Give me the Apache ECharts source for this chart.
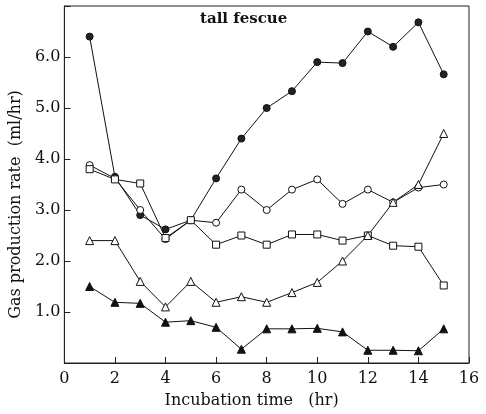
<!DOCTYPE html>
<html>
<head>
<meta charset="utf-8">
<script src="https://cdn.jsdelivr.net/npm/echarts@6/dist/echarts.min.js"></script>
<style>
  html, body { margin: 0; padding: 0; background: #fff; }
  #main { width: 486px; height: 414px; }
</style>
</head>
<body>
<div id="main"></div>
<script>
// incubation time (hr)
var hours = [1, 2, 3, 4, 5, 6, 7, 8, 9, 10, 11, 12, 13, 14, 15];
// gas production rate (ml/hr)
var filledCircle = [6.4, 3.65, 2.9, 2.62, 2.8, 3.62, 4.4, 5.0, 5.33, 5.9, 5.88, 6.5, 6.2, 6.68, 5.66];
var openCircle   = [3.88, 3.62, 3.0, 2.43, 2.8, 2.75, 3.4, 3.0, 3.4, 3.6, 3.12, 3.4, 3.15, 3.44, 3.5];
var openSquare   = [3.8, 3.6, 3.52, 2.45, 2.8, 2.32, 2.5, 2.32, 2.52, 2.52, 2.4, 2.5, 2.3, 2.28, 1.52];
var openTriangle = [2.4, 2.4, 1.6, 1.1, 1.6, 1.19, 1.3, 1.19, 1.38, 1.58, 2.0, 2.5, 3.15, 3.5, 4.5];
var filledTriangle = [1.5, 1.19, 1.17, 0.8, 0.83, 0.7, 0.27, 0.67, 0.67, 0.68, 0.61, 0.25, 0.25, 0.24, 0.67];

function pairs(vals) {
  return hours.map(function (h, i) { return [h, vals[i]]; });
}

var font = 'DejaVu Serif';

function mk(name, vals, symbol, fill) {
  return {
    name: name,
    type: 'line',
    data: pairs(vals),
    symbol: symbol,
    symbolSize: symbol === 'triangle' ? 8 : 7,
    showAllSymbol: true,
    lineStyle: { color: '#111', width: 1 },
    itemStyle: { color: fill, borderColor: '#111', borderWidth: 1 },
    emphasis: { disabled: true },
    z: 2
  };
}

var chart = echarts.init(document.getElementById('main'));
chart.setOption({
  animation: false,
  backgroundColor: '#fff',
  grid: {
    left: 61, right: 17, top: 6, bottom: 45,
    show: true, borderColor: '#222', borderWidth: 1
  },
  title: {
    text: 'tall fescue',
    left: 195, top: 7,
    textStyle: { fontFamily: font, fontSize: 15, fontWeight: 'bold', color: '#111' }
  },
  xAxis: {
    type: 'value', min: 0, max: 16, interval: 2,
    name: 'Incubation time   (hr)',
    nameLocation: 'middle', nameGap: 30,
    nameTextStyle: { fontFamily: font, fontSize: 16, color: '#111', padding: [0, 30, 0, 0] },
    axisLine: { show: true, lineStyle: { color: '#222' } },
    axisTick: { inside: true, length: 6, lineStyle: { color: '#222' } },
    axisLabel: { fontFamily: font, fontSize: 16, color: '#111', margin: 8 },
    splitLine: { show: false }
  },
  yAxis: {
    type: 'value', min: 0, max: 7, interval: 1,
    name: 'Gas production rate  (ml/hr)',
    nameLocation: 'middle', nameGap: 40,
    nameTextStyle: { fontFamily: font, fontSize: 16, color: '#111', padding: [0, 40, 0, 0] },
    axisLine: { show: true, lineStyle: { color: '#222' } },
    axisTick: { inside: true, length: 6, lineStyle: { color: '#222' } },
    axisLabel: {
      fontFamily: font, fontSize: 16, color: '#111', margin: 4,
      formatter: function (v) { return (v === 0 || v === 7) ? '' : v.toFixed(1); }
    },
    splitLine: { show: false }
  },
  series: [
    mk('filled circle', filledCircle, 'circle', '#222'),
    mk('open circle', openCircle, 'circle', '#fff'),
    mk('open square', openSquare, 'rect', '#fff'),
    mk('open triangle', openTriangle, 'triangle', '#fff'),
    mk('filled triangle', filledTriangle, 'triangle', '#111')
  ]
});
</script>
</body>
</html>
